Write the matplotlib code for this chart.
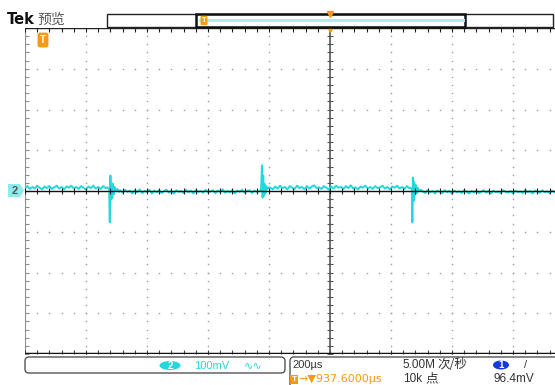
import matplotlib
matplotlib.use("Agg")
import matplotlib.pyplot as plt
import numpy as np
from matplotlib.patches import Rectangle, FancyBboxPatch, Ellipse, Polygon

plt.rcParams['font.family'] = ['Liberation Sans', 'Noto Sans CJK SC', 'DejaVu Sans']

# ---- trace data (time in us, voltage in mV) ----
seg1_t = [-1000, -992, -984, -976, -968, -960, -952, -944, -936, -928, -920,
          -912, -904, -896, -888, -880, -872, -864, -856, -848, -840, -832,
          -824, -816, -808, -800, -792, -784, -776, -768, -760, -752, -744,
          -736, -730]
seg1_v = [7, 12, 5, 10, 6, 13, 8, 4, 11, 7, 12, 5, 9, 13, 6, 10, 4, 11, 8,
          13, 6, 10, 5, 12, 8, 4, 11, 7, 13, 6, 10, 5, 12, 7, 9]

spike1_t = [-726, -724, -722, -720, -718, -716, -714, -712, -709, -706, -702, -697, -692]
spike1_v = [6, 2, -77, 38, -20, 12, -18, 18, -8, 10, 0, 5, -2]

seg2_t = [-688, -680, -672, -664, -656, -648, -640, -632, -624, -616, -608,
          -600, -592, -584, -576, -568, -560, -552, -544, -536, -528, -520,
          -512, -504, -496, -488, -480, -472, -464, -456, -448, -440, -432,
          -424, -416, -408, -400, -392, -384, -376, -368, -360, -352, -344,
          -336, -328, -320, -312, -304, -296, -288, -280, -272, -264, -256,
          -248, -240, -232]
seg2_v = [2, -4, 3, -2, 1, -6, 2, -3, 4, -5, 0, -2, 3, -6, 1, -3, 2, -5, 0,
          3, -4, 1, -6, 2, -2, 0, -5, 3, -3, 1, -6, 2, -2, 0, -4, 3, -3, -1,
          2, -5, 1, -2, 4, -4, 0, -3, 2, -6, 1, -2, 3, -4, 0, 2, -5, 1, -2, 0]

spike2_t = [-230, -226, -223, -221, -219, -217, -215, -212, -209, -205, -200]
spike2_v = [0, 4, 63, -16, 38, -12, 18, -6, 12, 5, 9]

seg3_t = [-196, -188, -180, -172, -164, -156, -148, -140, -132, -124, -116,
          -108, -100, -92, -84, -76, -68, -60, -52, -44, -36, -28, -20, -12,
          -4, 4, 12, 20, 28, 36, 44, 52, 60, 68, 76, 84, 92, 100, 108, 116,
          124, 132, 140, 148, 156, 164, 172, 180, 188, 196, 204, 212, 220,
          228, 236, 244, 252, 260]
seg3_v = [8, 4, 11, 6, 13, 7, 10, 4, 12, 8, 5, 13, 7, 10, 4, 12, 6, 11, 14,
          7, 9, 5, 12, 8, 4, 11, 6, 13, 8, 10, 5, 12, 7, 14, 6, 9, 4, 11, 8,
          13, 6, 10, 5, 12, 7, 9, 13, 6, 10, 4, 11, 8, 13, 6, 10, 5, 12, 7]

spike3_t = [264, 268, 270, 272, 274, 276, 278, 281, 284, 288, 293, 298]
spike3_v = [8, 5, -77, 33, -25, 22, -10, 15, -6, 8, 0, 3]

seg4_t = [304, 312, 320, 328, 336, 344, 352, 360, 368, 376, 384, 392, 400,
          408, 416, 424, 432, 440, 448, 456, 464, 472, 480, 488, 496, 504,
          512, 520, 528, 536, 544, 552, 560, 568, 576, 584, 592, 600, 608,
          616, 624, 632, 640, 648, 656, 664, 672, 680, 688, 696, 704, 712,
          720, 728, 736]
seg4_v = [-1, -5, 2, -3, 0, -6, 1, -2, -5, 2, -3, 0, -7, 1, -3, -1, -5, 2,
          -2, -6, 0, -3, 1, -5, -2, 2, -4, 0, -6, 1, -3, -1, -5, 2, -2, -4,
          0, -6, 1, -3, -1, -5, 2, -3, 0, -6, 1, -2, -4, 2, -3, -1, -5, 1, -3]

trace_t = seg1_t + spike1_t + seg2_t + spike2_t + seg3_t + spike3_t + seg4_t
trace_v = seg1_v + spike1_v + seg2_v + spike2_v + seg3_v + spike3_v + seg4_v

# scope settings
t_per_div = 200      # us
v_per_div = 100      # mV
h_divs_visible = 530 / 61
W, H = 555, 385

CYAN = '#22d8dc'
ORANGE = '#f59a12'
GRID = '#9a9a9a'

fig = plt.figure(figsize=(W / 100, H / 100), dpi=100)
ax = fig.add_axes([25 / W, 1 - 354 / H, 530 / W, 326 / H])
x0 = -5 * t_per_div
x1 = x0 + h_divs_visible * t_per_div
ax.set_xlim(x0, x1)
ax.set_ylim(-4 * v_per_div, 4 * v_per_div)
ax.axis('off')

# graticule dots
minor_x = np.arange(x0, x1, t_per_div / 5)
minor_y = np.arange(-4 * v_per_div, 4 * v_per_div + 1, v_per_div / 5)
for gx in np.arange(x0 + t_per_div, x1, t_per_div):
    if gx == 0:
        continue
    ax.plot(np.full_like(minor_y, gx), minor_y, ls='none', marker='s',
            ms=1.0, mew=0, color=GRID)
for gy in np.arange(-3, 4) * v_per_div:
    if gy == 0:
        continue
    ax.plot(minor_x, np.full_like(minor_x, gy), ls='none', marker='s',
            ms=1.0, mew=0, color=GRID)

# center cross
ax.axvline(0, color='#555555', lw=1.2, zorder=4)
ax.plot(np.zeros_like(minor_y), minor_y, ls='none', marker='_', ms=4,
        mew=0.8, color='#555555', zorder=4)
ax.plot(minor_x, np.zeros_like(minor_x), ls='none', marker='|', ms=4,
        mew=0.8, color='#222222', zorder=6)

# borders
ax.axvline(x0, color='#8c8c8c', lw=1.5)
ax.plot(np.full_like(minor_y, x0), minor_y, ls='none', marker=1, ms=3,
        mew=0.8, color='#8c8c8c')
ax.axhline(4 * v_per_div, color='#222222', lw=1.0)
ax.plot(minor_x, np.full_like(minor_x, 4 * v_per_div), ls='none', marker=3,
        ms=3, mew=0.8, color='#222222')
ax.axhline(-4 * v_per_div, color='#111111', lw=2.5, zorder=5)
ax.plot(minor_x, np.full_like(minor_x, -4 * v_per_div), ls='none', marker=2,
        ms=3, mew=0.8, color='#444444')

# signal
ax.plot(trace_t, trace_v, color=CYAN, lw=1.4, zorder=5)
ax.axhline(0, color='#111111', lw=1.0, zorder=6)
ax.plot(0, 4 * v_per_div, marker='v', ms=6, color=ORANGE, zorder=7, clip_on=False)

# ---- overlay in pixel coordinates ----
ov = fig.add_axes([0, 0, 1, 1])
ov.set_xlim(0, W)
ov.set_ylim(H, 0)
ov.axis('off')

ov.text(7, 20, 'Tek', fontsize=10.5, weight='bold', va='center', ha='left',
        color='#111111', family=['DejaVu Sans'])
ov.text(37, 20, '预览', fontsize=10, va='center', ha='left', color='#555555',
        family=['Noto Sans CJK SC'])

# record view
ov.add_patch(Rectangle((107, 14), 446, 13, fc='white', ec='#222222', lw=1))
ov.plot([200, 463], [20, 20], color='#aaf0f2', lw=2.2)
ov.add_patch(Rectangle((196, 14), 269, 13, fc='none', ec='#111111', lw=1.8))
ov.text(204, 20.5, 'T', fontsize=5.5, weight='bold', color='white', ha='center',
        va='center', bbox=dict(boxstyle='round,pad=0.15', fc=ORANGE, ec='none'))
ov.plot(330, 14, marker='v', ms=4, color=ORANGE)

# trigger badge at top left
ov.text(43, 40, 'T', fontsize=7, weight='bold', color='white', ha='center',
        va='center', bbox=dict(boxstyle='round,pad=0.25', fc=ORANGE, ec='none'))

# channel 2 marker
ov.add_patch(Polygon([(8, 184), (20, 184), (24, 190.5), (20, 197), (8, 197)],
                     closed=True, fc='#8feaec', ec='none'))
ov.text(14.5, 190.8, '2', fontsize=8, weight='bold', color='#555555',
        ha='center', va='center')

# bottom readouts
ov.add_patch(FancyBboxPatch((25, 357), 260, 16,
                            boxstyle='round,pad=0,rounding_size=4',
                            fc='white', ec='#555555', lw=1))
ov.add_patch(FancyBboxPatch((290, 357), 300, 40,
                            boxstyle='round,pad=0,rounding_size=4',
                            fc='white', ec='#555555', lw=1))
ov.add_patch(Ellipse((170, 365.5), 21, 9, fc=CYAN, ec='none'))
ov.text(170, 365.8, '2', fontsize=7, weight='bold', color='white',
        ha='center', va='center')
ov.text(194, 366, '100mV', fontsize=8, color=CYAN, ha='left', va='center')
ov.text(244, 365, '∿∿', fontsize=8, color=CYAN, ha='left', va='center',
        family=['DejaVu Sans'])

ov.text(292, 365, '200µs', fontsize=8, color='#333333', ha='left', va='center')
ov.add_patch(Rectangle((290, 374.5), 8, 9, fc=ORANGE, ec='none'))
ov.text(294, 379.5, 'T', fontsize=6, weight='bold', color='white',
        ha='center', va='center')
ov.text(298.5, 379.5, '→▼937.6000µs', fontsize=8, color=ORANGE, ha='left',
        va='center', family=['DejaVu Sans'])
ov.text(402, 365, '5.00M', fontsize=8.5, color='#333333', ha='left',
        va='center')
ov.text(437, 364.5, '次/秒', fontsize=9, color='#333333', ha='left',
        va='center', family=['Noto Sans CJK SC'])
ov.text(403, 379.5, '10k', fontsize=8.5, color='#333333', ha='left',
        va='center')
ov.text(425, 379, '点', fontsize=9, color='#333333', ha='left',
        va='center', family=['Noto Sans CJK SC'])
ov.add_patch(Ellipse((501, 365), 16, 9, fc='#1538e0', ec='none'))
ov.text(501, 365.3, '1', fontsize=7, weight='bold', color='white',
        ha='center', va='center')
ov.text(524, 365, '/', fontsize=8, color='#333333', ha='left', va='center')
ov.text(494, 379.5, '96.4mV', fontsize=8.5, color='#333333', ha='left',
        va='center')

fig.savefig('out.png', dpi=100)
